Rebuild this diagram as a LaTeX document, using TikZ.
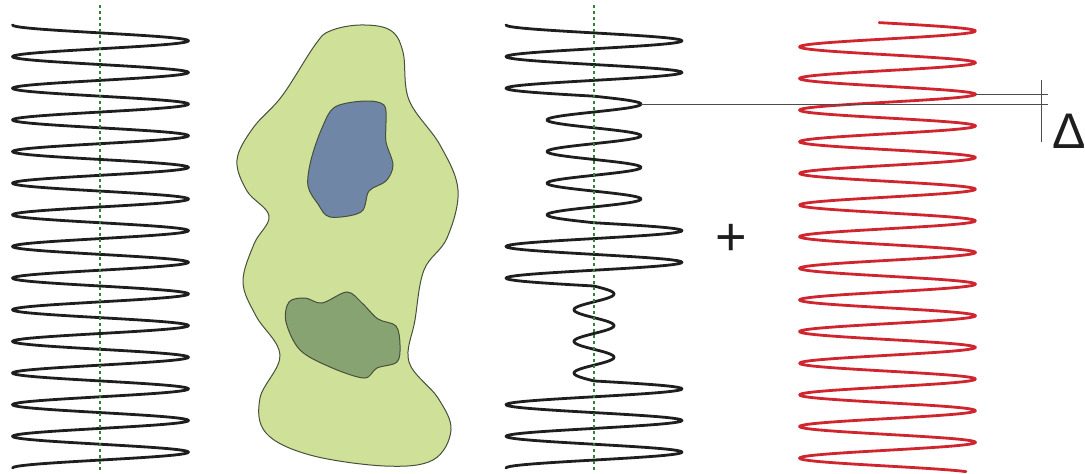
\documentclass[tikz,border=0pt]{standalone}
\usepackage{fontspec}
\setmainfont{Liberation Sans}
\usepackage{xcolor}
\definecolor{WaveBlack}{RGB}{30,30,30}
\definecolor{WaveRed}{RGB}{208,36,46}
\definecolor{AxisGreen}{RGB}{50,130,60}
\definecolor{BodyGreen}{RGB}{207,224,152}
\definecolor{PocketBlue}{RGB}{112,134,166}
\definecolor{PocketGreen}{RGB}{135,163,113}
\definecolor{BlobLine}{RGB}{70,80,60}

\tikzset{
  wave/.style={line width=2.8pt, line cap=round, line join=round, variable=\t},
  axisline/.style={AxisGreen, line width=1.2pt, dash pattern=on 2.5pt off 3.5pt},
  blob/.style={draw=BlobLine, line width=1pt},
  gauge/.style={draw=black!70, line width=1pt}
}

\begin{document}
\begin{tikzpicture}[x=1pt, y=-1pt]
  \useasboundingbox (0,0) rectangle (1085,474);

  % reference wave
  \draw[wave, WaveBlack] plot[domain=0:28, samples=561]
    ({100.5-88*cos(180*\t)}, {25+15.82*\t});

  % body with two pockets
  \draw[blob, fill=BodyGreen] plot[smooth cycle, tension=0.6] coordinates {
    (360,25) (390,30) (403,52) (409,100) (440,145) (458,190) (447,238)
    (424,270) (415,320) (409,362) (438,398) (451,430) (433,460) (385,466)
    (310,455) (266,433) (260,398) (280,355) (256,316) (243,282) (254,244)
    (269,216) (247,191) (237,160) (253,128) (282,96) (315,45) (330,31)};
  \draw[blob, fill=PocketBlue] plot[smooth cycle, tension=0.55] coordinates {
    (335,107) (365,101) (384,105) (386,122) (386,142) (393,165) (386,181)
    (369,191) (361,212) (330,217) (318,204) (308,186) (311,160) (322,128)};
  \draw[blob, fill=PocketGreen] plot[smooth cycle, tension=0.55] coordinates {
    (289,302) (305,298) (322,303) (347,292) (362,303) (378,319) (396,326)
    (400,345) (397,362) (377,368) (364,378) (330,367) (300,350) (286,322)};

  % wave passed through the body
  \draw[wave, WaveBlack]
    plot[domain=0:4.5, samples=91] ({594-88*cos(180*\t)}, {25+15.82*\t})
    -- plot[domain=4.5:12.5, samples=161] ({594-47*cos(180*\t)}, {25+15.82*\t})
    -- plot[domain=12.5:16.5, samples=81] ({594-88*cos(180*\t)}, {25+15.82*\t})
    -- plot[domain=16.5:22.5, samples=121] ({594-20*cos(180*\t)}, {25+15.82*\t})
    -- plot[domain=22.5:28, samples=111] ({594-88*cos(180*\t)}, {25+15.82*\t});

  % shifted wave
  \draw[wave, WaveRed] plot[domain=-0.53:27.85, samples=571]
    ({887.5+88*cos(180*\t)}, {31+15.82*\t});

  % centre lines
  \draw[axisline] (100,5) -- (100,470);
  \draw[axisline] (594,5) -- (594,470);

  \node[font=\fontsize{54}{54}\selectfont, text=WaveBlack, anchor=base, inner sep=0]
    (plus) at (731,255) {+};

  % phase shift gauge
  \coordinate (blackpeak) at (641,104.1);
  \coordinate (redpeak) at (975.5,94.3);
  \coordinate (blackend) at (1048,104.1);
  \coordinate (redend) at (1048,94.3);
  \coordinate (ticktop) at (1041,80);
  \coordinate (tickbot) at (1041,142);
  \draw[gauge] (blackpeak) -- (blackend);
  \draw[gauge] (redpeak) -- (redend);
  \draw[gauge] (ticktop) -- (tickbot);
  \node[font=\fontsize{50}{50}\selectfont, text=WaveBlack, anchor=base west, inner sep=0]
    (delta) at (1052,148) {Δ};
\end{tikzpicture}
\end{document}
